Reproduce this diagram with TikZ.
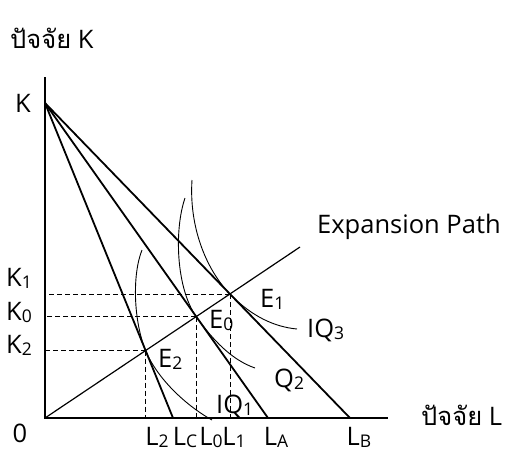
\documentclass[tikz,border=0pt]{standalone}
\usepackage{fontspec}
\setmainfont{Open Sans}
\newfontfamily\thaifont[Script=Thai]{Loma}
\newcommand\sbs[1]{\raisebox{-2pt}{\fontsize{17.5}{17.5}\selectfont #1}}
\tikzset{
  axisline/.style={line width=1.4pt},
  budget/.style={line width=1.8pt},
  expline/.style={line width=1.2pt},
  iso/.style={line width=0.9pt},
  guide/.style={line width=0.9pt, dash pattern=on 5pt off 3pt},
  lbl/.style={inner sep=0pt, anchor=base, font=\fontsize{25.5}{25.5}\selectfont},
}
\begin{document}
\begin{tikzpicture}[x=1pt,y=-1pt]
\useasboundingbox (0,0) rectangle (513,450);
% key points
\coordinate (O) at (45,418);
\coordinate (Ytop) at (45,77);
\coordinate (Xend) at (388,418);
\coordinate (K) at (45,103);
\coordinate (LC) at (173,418);
\coordinate (LA) at (268,418);
\coordinate (LB) at (350,418);
\coordinate (EP) at (300,247);
\coordinate (E1) at (intersection of K--LB and O--EP);
\coordinate (E0) at (intersection of K--LA and O--EP);
\coordinate (E2) at (intersection of K--LC and O--EP);
% guides
\foreach \p in {E1,E0,E2}{
  \draw[guide] (\p) -- (\p -| O);
  \draw[guide] (\p) -- (\p |- O);
}
% axes
\draw[axisline] (Ytop) -- (O) -- (Xend);
% budget lines
\draw[budget] (K) -- (LC);
\draw[budget] (K) -- (LA);
\draw[budget] (K) -- (LB);
% expansion path
\draw[expline] (O) -- (EP);
% isoquants
\coordinate (I1s) at (142,250); \coordinate (I1e) at (212,420);
\coordinate (I2s) at (185,198); \coordinate (I2e) at (255,368);
\coordinate (I3s) at (192,180); \coordinate (I3e) at (297,329);
\draw[iso] (I1s) .. controls (132,275) and (133.6,321) .. (E2)
  .. controls (156.6,377.6) and (185,405) .. (I1e);
\draw[iso] (I2s) .. controls (174,230) and (176.2,288.4) .. (E0)
  .. controls (213.2,340.6) and (232,360) .. (I2e);
\draw[iso] (I3s) .. controls (189,225) and (204.9,268.2) .. (E1)
  .. controls (251.9,316.7) and (275,327) .. (I3e);
% labels
\node[lbl, anchor=base west] (tK) at (10,48) {{\thaifont ปัจจัย} K};
\node[lbl, anchor=base west] (tL) at (421,425) {{\thaifont ปัจจัย} L};
\node[lbl, anchor=base west] (tEP) at (317,233) {Expansion Path};
\node[lbl] (lK) at (23,112) {K};
\node[lbl] (lK1) at (19,286) {K\sbs{1}};
\node[lbl] (lK0) at (19,320) {K\sbs{0}};
\node[lbl] (lK2) at (19,353) {K\sbs{2}};
\node[lbl] (l0) at (20,442) {0};
\node[lbl, anchor=base west] (lE1) at (260,307) {E\sbs{1}};
\node[lbl, anchor=base west] (lE0) at (209,328) {E\sbs{0}};
\node[lbl, anchor=base west] (lE2) at (158,367) {E\sbs{2}};
\node[lbl, anchor=base west] (lQ2) at (274,387) {Q\sbs{2}};
\node[lbl, anchor=base west] (lIQ1) at (216,413) {IQ\sbs{1}};
\node[lbl, anchor=base west] (lIQ3) at (307,337) {IQ\sbs{3}};
\node[lbl] (lL2) at (157,445) {L\sbs{2}};
\node[lbl] (lLC) at (185,445) {L\sbs{C}};
\node[lbl] (lL0) at (211,445) {L\sbs{0}};
\node[lbl] (lL1) at (234,445) {L\sbs{1}};
\node[lbl] (lLA) at (276,445) {L\sbs{A}};
\node[lbl] (lLB) at (359,445) {L\sbs{B}};
\end{tikzpicture}
\end{document}
